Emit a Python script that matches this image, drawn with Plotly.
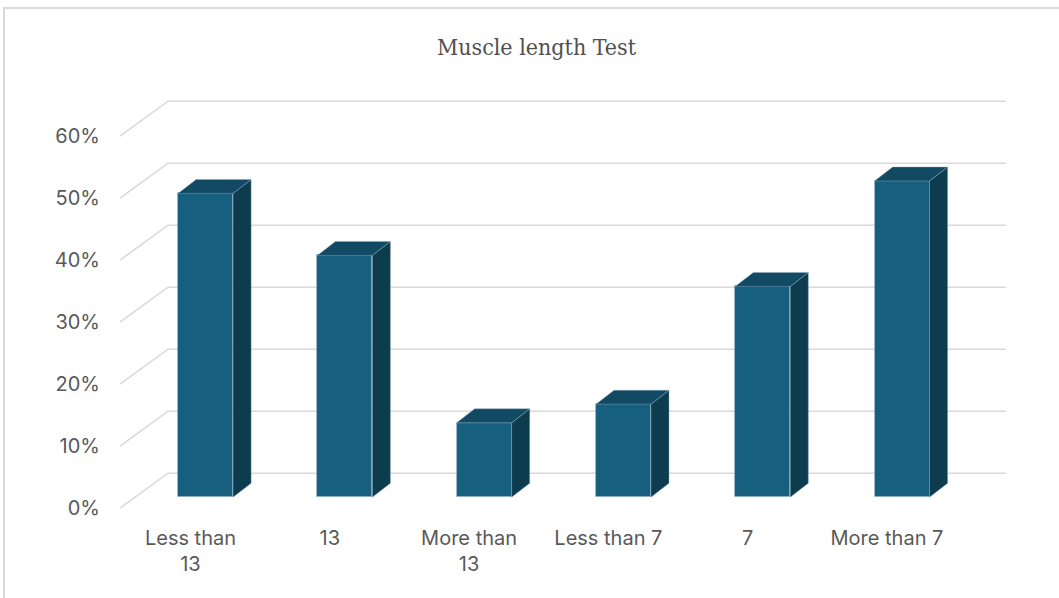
import plotly.graph_objects as go

# ---------------- data ----------------
categories = ["Less than<br>13", "13", "More than<br>13", "Less than 7", "7", "More than 7"]
values = [49, 39, 12, 15, 34, 51]          # percent
y_ticks = [0, 10, 20, 30, 40, 50, 60]
y_tick_labels = [f"{t}%" for t in y_ticks]

# ---------------- pseudo-3D geometry (in axis units) ----------------
BAR_W = 0.395          # front face width
DEPTH_DX, DEPTH_DY = 0.13, 2.26     # bar depth projection
FRONT_DX, FRONT_DY = -0.108, -1.77  # front edge of the walls relative to bar plane
BACK_DX, BACK_DY = 0.237, 3.87      # back wall relative to bar plane
WALL_L, WALL_R = -0.506, 5.51       # wall extent in bar plane

C_FRONT = "#175F7E"
C_TOP = "#124A63"
C_SIDE = "#0D3C4E"
C_GRID = "#D9D9D9"
C_TEXT = "#595959"

fig = go.Figure()

xs = list(range(len(values)))
edge = dict(color="rgba(140,175,195,0.55)", width=0.8)

# side faces and top faces
for x, v in zip(xs, values):
    r = x + BAR_W / 2
    l = x - BAR_W / 2
    fig.add_trace(go.Scatter(
        x=[r, r + DEPTH_DX, r + DEPTH_DX, r, r],
        y=[0, DEPTH_DY, v + DEPTH_DY, v, 0],
        fill="toself", fillcolor=C_SIDE, mode="lines", line=edge,
        hoverinfo="skip", showlegend=False))
    fig.add_trace(go.Scatter(
        x=[l, l + DEPTH_DX, r + DEPTH_DX, r, l],
        y=[v, v + DEPTH_DY, v + DEPTH_DY, v, v],
        fill="toself", fillcolor=C_TOP, mode="lines", line=edge,
        hoverinfo="skip", showlegend=False))

# front faces
fig.add_trace(go.Bar(
    x=xs, y=values, width=BAR_W,
    marker=dict(color=C_FRONT, line=edge),
    showlegend=False, hovertemplate="%{y}%<extra></extra>"))

# gridlines (left-wall diagonal + back wall line), drawn below the traces
shapes = []
for t in y_ticks:
    path = (f"M {WALL_L + FRONT_DX},{t + FRONT_DY} "
            f"L {WALL_L + BACK_DX},{t + BACK_DY} "
            f"L {WALL_R + BACK_DX},{t + BACK_DY}")
    shapes.append(dict(type="path", path=path, xref="x", yref="y",
                       line=dict(color=C_GRID, width=1.6), layer="below"))

# ---------------- layout ----------------
W, H = 1059, 598
ML, MR, MT, MB = 108, 32, 88, 76
PX_X, PX_Y = 139.3, 6.2
x0, y0 = -0.7, -4.0
x1 = x0 + (W - ML - MR) / PX_X
y1 = y0 + (H - MT - MB) / PX_Y

# outer chart border
shapes.append(dict(type="rect", xref="paper", yref="paper",
                   x0=(4 - ML) / (W - ML - MR), x1=1.1,
                   y0=-0.3, y1=(H - MB - 8) / (H - MT - MB),
                   line=dict(color="#D9D9D9", width=2), fillcolor="rgba(0,0,0,0)",
                   layer="below"))

fig.update_layout(
    width=W, height=H,
    margin=dict(l=ML, r=MR, t=MT, b=MB),
    paper_bgcolor="white", plot_bgcolor="white",
    bargap=0,
    xaxis=dict(range=[x0, x1], tickvals=[x + FRONT_DX for x in xs], ticktext=categories,
               showgrid=False, zeroline=False, showline=False, ticks="",
               tickfont=dict(family="Inter", size=20, color=C_TEXT),
               ticklabelstandoff=2, fixedrange=True),
    yaxis=dict(range=[y0, y1], tickvals=[t + FRONT_DY for t in y_ticks], ticktext=y_tick_labels,
               showgrid=False, zeroline=False, showline=False, ticks="",
               tickfont=dict(family="Inter", size=20, color=C_TEXT),
               ticklabelstandoff=7, fixedrange=True),
    annotations=[dict(
        text="Muscle length Test", xref="paper", yref="paper",
        x=(537 - ML) / (W - ML - MR), y=(H - MB - 47) / (H - MT - MB),
        xanchor="center", yanchor="middle", showarrow=False,
        font=dict(family="DejaVu Serif Condensed", size=23, color="#505050"))],
    shapes=shapes,
)

fig.write_html("out.html", config={"displayModeBar": False},
               post_script="document.body.style.margin='0';")
